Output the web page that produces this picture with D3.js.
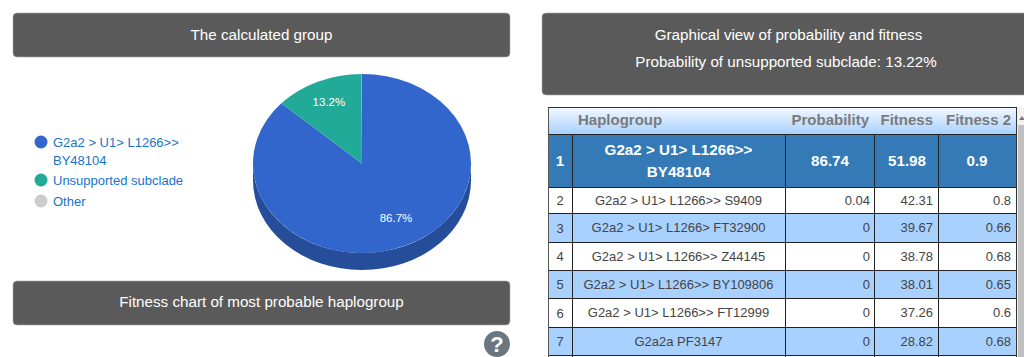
<!DOCTYPE html>
<html><head><meta charset="utf-8">
<script src="https://cdn.jsdelivr.net/npm/d3@7"></script>
<style>html,body{margin:0;padding:0;background:#fff;overflow:hidden}svg{display:block;font-family:"Liberation Sans",Arial,sans-serif}</style>
</head><body><svg id="c" width="1024" height="357"></svg>
<script>
const pieLabels=["G2a2 > U1> L1266>> BY48104","Unsupported subclade","Other"];
const pieValues=[86.74,13.22,0.04];
const pieColors=["#3366cc","#22aa99","#cccccc"];
const ranks=[1,2,3,4,5,6,7];
const haplogroups=["G2a2 > U1> L1266>> BY48104","G2a2 > U1> L1266>> S9409","G2a2 > U1> L1266> FT32900","G2a2 > U1> L1266>> Z44145","G2a2 > U1> L1266>> BY109806","G2a2 > U1> L1266>> FT12999","G2a2a PF3147"];
const probability=[86.74,0.04,0,0,0,0,0];
const fitness=[51.98,42.31,39.67,38.78,38.01,37.26,28.82];
const fitness2=[0.9,0.8,0.66,0.68,0.65,0.6,0.68];
const headers=["","Haplogroup","Probability","Fitness","Fitness 2"];

const svg=d3.select("#c");
function panel(x,y,w,h,lines,ys,xs){
  svg.append("rect").attr("x",x).attr("y",y).attr("width",w).attr("height",h).attr("rx",4).attr("fill","#5a5a5a").attr("stroke","#a8a8a8").attr("stroke-width",0.6);
  lines.forEach((t,i)=>svg.append("text").attr("x",xs[i]).attr("y",ys[i]).attr("text-anchor","middle").attr("fill","#fff").attr("font-size",15.2).text(t));
}
panel(13,13,497,44,["The calculated group"],[40],[261.5]);
panel(542,13,490,82,["Graphical view of probability and fitness","Probability of unsupported subclade: 13.22%"],[40,66.5],[788.5,786]);
panel(13,281,497,44,["Fitness chart of most probable haplogroup"],[307],[261.5]);

// legend
const lg=svg.append("g").attr("font-size",13).attr("fill","#1a73c8");
const legY=[142,180,201];
pieLabels.forEach((l,i)=>{
  lg.append("circle").attr("cx",41).attr("cy",legY[i]).attr("r",6.5).attr("fill",pieColors[i]);
});
lg.append("text").attr("x",53).attr("y",147).text("G2a2 > U1> L1266>>");
lg.append("text").attr("x",53).attr("y",165).text("BY48104");
lg.append("text").attr("x",53).attr("y",185).text(pieLabels[1]);
lg.append("text").attr("x",53).attr("y",206).text(pieLabels[2]);

// pie
const cx=362,cy=163.5,rx=109,ry=89.5,depth=17;
const pie=d3.pie().sort(null).value(d=>d)(pieValues);
const arc=d3.arc().innerRadius(0).outerRadius(rx);
svg.append("path").attr("fill","#264d99").attr("d",`M${cx-rx},${cy}A${rx},${ry} 0 0 0 ${cx+rx},${cy}L${cx+rx},${cy+depth}A${rx},${ry} 0 0 1 ${cx-rx},${cy+depth}Z`);
const pg=svg.append("g").attr("transform",`translate(${cx},${cy}) scale(1,${ry/rx})`);
pg.selectAll("path").data(pie).join("path").attr("d",arc).attr("fill",(d,i)=>pieColors[i]);
const fmt=d3.format(".1f");
const lblK=[[0.77,0.67],[0.75,0.75]];
[0,1].forEach(i=>{
  const a=(pie[i].startAngle+pie[i].endAngle)/2;
  svg.append("text").attr("x",cx+Math.sin(a)*rx*lblK[i][0]).attr("y",cy-Math.cos(a)*ry*lblK[i][1]+4).attr("text-anchor","middle").attr("fill","#fff").attr("font-size",11.5).text(fmt(pieValues[i])+"%");
});

// help icon
svg.append("circle").attr("cx",497).attr("cy",344).attr("r",13).attr("fill","#6c7681");
svg.append("text").attr("x",497).attr("y",352).attr("text-anchor","middle").attr("fill","#fff").attr("font-size",22).attr("font-weight",700).text("?");

// table
const colX=[548,572,785,874,938,1016];
const rowY=[107,134,187,213,242,270,298,327,355];
const t=svg.append("g");
const defs=svg.append("defs");
const gr=defs.append("linearGradient").attr("id","hg").attr("x1",0).attr("x2",0).attr("y1",0).attr("y2",1);
gr.append("stop").attr("offset",0).attr("stop-color","#f4f9ff");
gr.append("stop").attr("offset",1).attr("stop-color","#a8d1ff");
t.append("rect").attr("x",colX[0]).attr("y",rowY[0]).attr("width",colX[5]-colX[0]).attr("height",rowY[1]-rowY[0]).attr("fill","url(#hg)");
const hx=[560,578,869,933,1011],ha=["middle","start","end","end","end"];
headers.forEach((h,i)=>t.append("text").attr("x",hx[i]).attr("y",125).attr("text-anchor",ha[i]).attr("font-size",15).attr("font-weight",700).attr("fill","#7b7b7b").text(h));
ranks.forEach((r,i)=>{
  const y0=rowY[i+1],y1=rowY[i+2],mid=(y0+y1)/2;
  const fill=i===0?"#337ab7":(i%2===0?"#a9d1ff":"#fff");
  t.append("rect").attr("x",colX[0]).attr("y",y0).attr("width",colX[5]-colX[0]).attr("height",y1-y0).attr("fill",fill);
  const top=i===0;
  const col=top?"#fff":"#444";
  const fs=top?15.2:13, fw=top?700:400;
  const tx=(x,y,a,s)=>t.append("text").attr("x",x).attr("y",y).attr("text-anchor",a).attr("fill",col).attr("font-size",fs).attr("font-weight",fw).text(s);
  tx(560,mid+5,"middle",r);
  if(top){
    tx(678.5,mid-6,"middle","G2a2 > U1> L1266>>");
    tx(678.5,mid+16,"middle","BY48104");
    tx(830,mid+5.5,"middle",probability[i]);
    tx(907,mid+5.5,"middle",fitness[i]);
    tx(977,mid+5.5,"middle",fitness2[i]);
  } else {
    tx(678.5,mid+4.5,"middle",haplogroups[i]);
    tx(870,mid+4.5,"end",probability[i]);
    tx(933,mid+4.5,"end",fitness[i]);
    tx(1011,mid+4.5,"end",fitness2[i]);
  }
});
const ln=(x1,y1,x2,y2,c="#222")=>t.append("line").attr("x1",x1).attr("y1",y1).attr("x2",x2).attr("y2",y2).attr("stroke",c).attr("stroke-width",1);
rowY.slice(1).forEach(y=>ln(colX[0],y+.5,colX[5],y+.5));
colX.slice(1,5).forEach(x=>ln(x+.5,rowY[1],x+.5,357));
ln(548.5,107,548.5,357,"#555");ln(1016.5,107,1016.5,357,"#333");ln(548,107.5,1017,107.5,"#333");
// scrollbar
svg.append("rect").attr("x",1017).attr("y",107).attr("width",7).attr("height",250).attr("fill","#f1f1f1");
svg.append("rect").attr("x",1018).attr("y",125).attr("width",6).attr("height",232).attr("fill","#c1c1c1");
svg.append("path").attr("d","M1019,120l3,-4l3,4z").attr("fill","#777");
</script></body></html>
